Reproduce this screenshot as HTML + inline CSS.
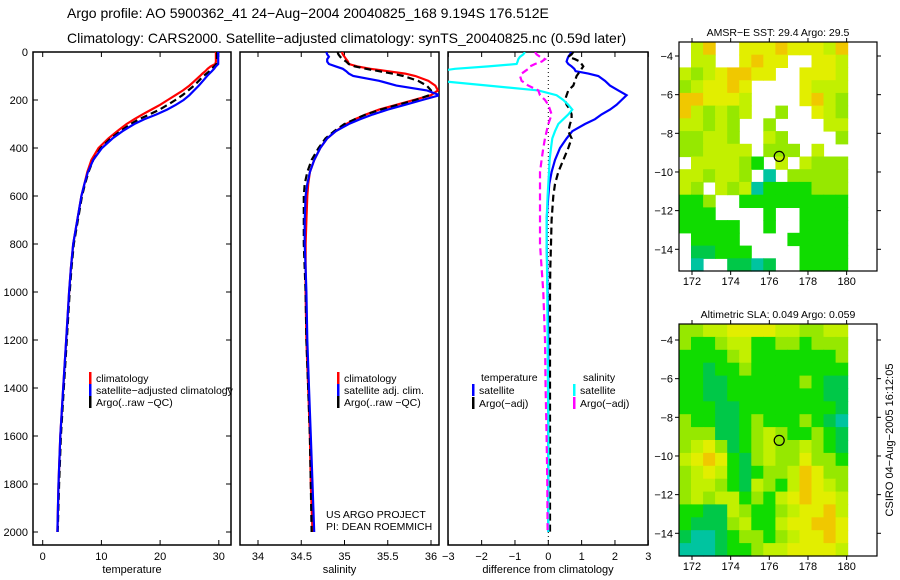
<!DOCTYPE html>
<html><head><meta charset="utf-8">
<style>
body{margin:0;background:#fff;}
svg{display:block;font-family:"Liberation Sans",sans-serif;}
</style></head>
<body>
<svg id="chart" width="900" height="580" viewBox="0 0 900 580" xmlns="http://www.w3.org/2000/svg">
<rect x="0" y="0" width="900" height="580" fill="#fff"/>
<text x="67" y="18" font-size="14">Argo profile: AO 5900362_41 24−Aug−2004 20040825_168 9.194S 176.512E</text>
<text x="67" y="43" font-size="14">Climatology: CARS2000. Satellite−adjusted climatology: synTS_20040825.nc (0.59d later)</text>
<g id="g"></g>
</svg>
<script>
const depths=[0,10,20,30,40,50,60,70,80,90,100,120,140,160,180,200,220,240,260,280,300,330,360,400,450,500,550,600,700,800,900,1000,1200,1400,1600,1800,2000];
const tempClim=[29.5,29.5,29.5,29.5,29.5,29.4,28.6,28.1,27.7,27.2,26.8,25.9,25.0,23.9,22.6,21.3,20.0,18.5,17.0,15.6,14.3,12.7,11.2,9.5,8.3,7.6,7.1,6.6,5.9,5.2,4.8,4.5,4.0,3.5,3.0,2.7,2.5];
const tempSat=[29.9,29.9,29.9,29.9,29.9,29.9,29.5,29.2,28.8,28.4,28.0,27.3,26.6,25.8,25.0,24.0,22.7,21.2,19.4,17.3,15.6,13.6,11.9,10.1,8.6,7.7,7.1,6.6,5.9,5.2,4.8,4.5,4.0,3.5,3.0,2.7,2.5];
const tempArgo=[29.7,29.7,29.7,29.7,29.7,29.6,29.2,28.8,28.4,27.9,27.4,26.6,25.8,24.8,23.8,22.6,21.3,19.9,18.2,16.4,15.0,13.2,11.6,9.9,8.6,7.8,7.2,6.7,6.0,5.3,4.9,4.6,4.1,3.6,3.1,2.8,2.55];
const salClim=[34.97,34.98,35.0,35.02,35.04,35.05,35.15,35.3,35.5,35.7,35.82,35.97,36.05,36.08,36.0,35.8,35.6,35.4,35.25,35.12,35.02,34.9,34.8,34.72,34.65,34.6,34.58,34.57,34.56,34.55,34.55,34.55,34.56,34.58,34.6,34.61,34.63];
const salSat=[34.79,34.8,34.82,34.8,34.8,34.82,34.9,34.98,35.02,35.05,35.1,35.4,35.6,35.95,36.1,35.9,35.7,35.5,35.33,35.18,35.05,34.9,34.8,34.72,34.65,34.6,34.57,34.55,34.54,34.54,34.55,34.56,34.57,34.59,34.61,34.63,34.65];
const salArgo=[34.92,34.93,34.95,34.98,35.02,35.05,35.12,35.25,35.4,35.55,35.68,35.85,35.95,36.0,35.98,35.82,35.62,35.42,35.25,35.12,35.0,34.88,34.78,34.7,34.62,34.57,34.54,34.53,34.53,34.53,34.54,34.55,34.56,34.58,34.6,34.61,34.62];
const dTempSat=[0.7,0.65,0.6,0.57,0.55,0.6,0.7,0.78,0.82,1.2,1.5,1.7,1.85,2.1,2.35,2.2,2.05,1.85,1.6,1.4,1.1,0.72,0.55,0.35,0.2,0.1,0.03,0,-0.05,-0.05,-0.03,-0.02,0,0,0,0,0];
const dTempArgo=[0.75,0.7,0.6,0.8,0.95,1.0,1.05,1.0,0.95,0.9,0.85,0.8,0.75,0.6,0.55,0.5,0.55,0.65,0.7,0.7,0.65,0.6,0.7,0.6,0.45,0.3,0.2,0.15,0.1,0.08,0.06,0.05,0.05,0.05,0.05,0.05,0.05];
const dSalSat=[-0.7,-0.75,-0.85,-0.9,-0.92,-0.95,-1.8,-2.8,-3.3,-3.3,-3.3,-3.3,-1.8,-0.3,0.25,0.45,0.6,0.72,0.6,0.45,0.3,0.2,0.12,0.08,0.04,0.02,0,-0.02,-0.05,-0.05,-0.04,-0.03,-0.02,-0.01,0,0,0];
const dSalArgo=[-0.4,-0.35,-0.25,-0.1,-0.2,-0.4,-0.55,-0.6,-0.7,-0.8,-0.85,-0.8,-0.6,-0.3,-0.25,-0.1,0,0.05,0.1,0.05,0,-0.05,-0.1,-0.15,-0.2,-0.25,-0.25,-0.25,-0.25,-0.25,-0.2,-0.15,-0.1,-0.08,-0.05,-0.03,-0.02];
const depthTicks=[0,200,400,600,800,1000,1200,1400,1600,1800,2000];
const tempTicks=[0,10,20,30];
const salTicks=[34,34.5,35,35.5,36];
const diffTicks=[-3,-2,-1,0,1,2,3];
const lonTicks=[172,174,176,178,180];
const latTicks=[-4,-6,-8,-10,-12,-14];
const sstGrid=[
".lo..yyyoyyylo",
".ll..yoyy..yyl",
"lglyooyy..yyyl",
"glyyoy....ylll",
"ooyyyl....yolg",
"olglgl..g..ylg",
"llglg..g....ll",
"ggllg..lg....g",
"ggllll.ggg.l..",
".llllgG.l.lggg",
"llgllg.t.ggggg",
"lg.lgltGGGGggg",
"GGg..GGGGGGGGG",
"GGG....G..GGGG",
"GGGGG..G..GGGG",
".GGGG....GGGGG",
".ddGGG....GGGG",
".t..ddtd..GGGG"];
const slaGrid=[
"ggllyyyyllggll",
"gGGgllGGggGggg",
"GGGGglGGGGGGGg",
"GGdGGgGGGGGGGG",
"GGddGGGGGGgGdd",
"GGddGGGGGGGGdd",
"GGGddGGGGGGGGd",
"gGGddGgGGGgGdt",
"gggddGglgGGgGd",
"glygdGglgglgGd",
"lyoyGdglggyggG",
"glylGdGggloygg",
"gllgGdlgGloylg",
"glgllGgGlyoyyl",
"GGddlgGGglyyol",
"GdddglGGlyyooy",
"dttdGggGglyyoy",
"tttdGGgllyyyyl"];
const sstTitle="AMSR−E SST: 29.4 Argo: 29.5";
const slaTitle="Altimetric SLA: 0.049 Argo: 0.059";
const floatLon=176.512, floatLat=-9.194;

const NS="http://www.w3.org/2000/svg";
const G=document.getElementById('g');
function mk(tag,attrs,parent){const e=document.createElementNS(NS,tag);for(const k in attrs)e.setAttribute(k,attrs[k]);(parent||G).appendChild(e);return e;}
const Y=d=>52+0.24*d;
const TOP=52,BOT=545;
const panels=[
 {l:33,r:231,x:v=>42.7+5.87*v,ticks:tempTicks,title:'temperature',name:'temperature'},
 {l:240,r:439,x:v=>258+86.5*(v-34),ticks:salTicks,title:'salinity',name:'salinity'},
 {l:448,r:648,x:v=>548.3+33.33*v,ticks:diffTicks,title:'difference from climatology',name:'difference'}];
const defs=mk('defs',{});
panels.forEach((p,i)=>{
  const cp=mk('clipPath',{id:'cp'+i},defs);
  mk('rect',{x:p.l,y:TOP,width:p.r-p.l,height:BOT-TOP},cp);
  const f=mk('rect',{x:p.l,y:TOP,width:p.r-p.l,height:BOT-TOP,fill:'none',stroke:'#000','stroke-width':1.5});
  
  
  p.ticks.forEach(t=>{
    const x=p.x(t);
    mk('line',{x1:x,x2:x,y1:BOT,y2:BOT-5,stroke:'#000'});
    mk('line',{x1:x,x2:x,y1:TOP,y2:TOP+5,stroke:'#000'});
    const tx=mk('text',{x:x,y:560,'font-size':11,'text-anchor':'middle'});
    tx.textContent=String(t).replace('-','−');
    
    
  });
  const at=mk('text',{x:(p.l+p.r)/2,y:573,'font-size':11,'text-anchor':'middle'});
  at.textContent=p.title;
  
  
  if(i===0){depthTicks.forEach(d=>{
    mk('line',{x1:p.l,x2:p.l+5,y1:Y(d),y2:Y(d),stroke:'#000'});
    mk('line',{x1:p.r,x2:p.r-5,y1:Y(d),y2:Y(d),stroke:'#000'});
    const tx=mk('text',{x:28,y:Y(d)+4,'font-size':11,'text-anchor':'end'});
    tx.textContent=d;
    
    
  });}
});
const zl=mk('line',{x1:panels[2].x(0),x2:panels[2].x(0),y1:TOP,y2:BOT,stroke:'#000','stroke-dasharray':'1,3'});


function series(pi,vals,color,dash,name){
  const p=panels[pi];
  const pts=vals.map((v,k)=>p.x(v).toFixed(1)+','+Y(depths[k]).toFixed(1)).join(' ');
  const a={points:pts,fill:'none',stroke:color,'stroke-width':2.2,'clip-path':'url(#cp'+pi+')'};
  if(dash)a['stroke-dasharray']='7,4';
  const e=mk('polyline',a);
  
  
}
series(0,tempClim,'#f00',0,'temp-climatology-line');
series(0,tempArgo,'#000',1,'temp-argo-line');
series(0,tempSat,'#00f',0,'temp-satellite-line');
series(1,salClim,'#f00',0,'sal-climatology-line');
series(1,salArgo,'#000',1,'sal-argo-line');
series(1,salSat,'#00f',0,'sal-satellite-line');
series(2,dTempSat,'#00f',0,'dtemp-satellite-line');
series(2,dTempArgo,'#000',1,'dtemp-argo-line');
series(2,dSalSat,'#0ff',0,'dsal-satellite-line');
series(2,dSalArgo,'#f0f',1,'dsal-argo-line');
function legend(x,y,color,label,name){
  const m=mk('rect',{x:x-1,y:y-9,width:2.5,height:12,fill:color});
  
  
  if(label){const t=mk('text',{x:x+6,y:y+1,'font-size':10.5});t.textContent=label;
  
  }
}
legend(90,381,'#f00','climatology','legend-climatology');
legend(90,393,'#00f','satellite−adjusted climatology','legend-satellite-adjusted');
legend(90,405,'#000','Argo(..raw −QC)','legend-argo');
legend(338,381,'#f00','climatology','legend-sal-climatology');
legend(338,393,'#00f','satellite adj. clim.','legend-sal-satellite');
legend(338,405,'#000','Argo(..raw −QC)','legend-sal-argo');
let t=mk('text',{x:481,y:381,'font-size':10.5});t.textContent='temperature';


t=mk('text',{x:583,y:381,'font-size':10.5});t.textContent='salinity';


legend(473,393,'#00f','satellite','legend-dtemp-satellite');
legend(473,406,'#000','Argo(−adj)','legend-dtemp-argo');
legend(574,393,'#0ff','satellite','legend-dsal-satellite');
legend(574,406,'#f0f','Argo(−adj)','legend-dsal-argo');
t=mk('text',{x:326,y:518,'font-size':10.5});t.textContent='US ARGO PROJECT';


t=mk('text',{x:326,y:530,'font-size':10.5});t.textContent='PI: DEAN ROEMMICH';



const COL={o:'#f0c800',y:'#e2ee00',l:'#c2f000',g:'#96e800',G:'#10dc00',d:'#00c848',t:'#00c4a0'};
function map(top,bot,lat4,grid,title,name){
  const L=679,R=877,lonX=v=>692+(v-172)*19.33,latY=v=>lat4+(-4-v)*19.33;
  const dataR=lonX(180)+1;
  const rows=grid.length,cols=grid[0].length,cw=(dataR-L)/cols,ch=(bot-top)/rows;
  for(let r=0;r<rows;r++)for(let c=0;c<cols;c++){
    const k=grid[r][c];if(k==='.')continue;
    const e=mk('rect',{x:(L+c*cw).toFixed(1),y:(top+r*ch).toFixed(1),width:(cw+0.6).toFixed(1),height:(ch+0.6).toFixed(1),fill:COL[k]});
    
    
  }
  const f=mk('rect',{x:L,y:top,width:R-L,height:bot-top,fill:'none',stroke:'#000','stroke-width':1.2});
  
  
  lonTicks.forEach(v=>{const x=lonX(v);
    mk('line',{x1:x,x2:x,y1:bot,y2:bot+4,stroke:'#000'});
    mk('line',{x1:x,x2:x,y1:top,y2:top-4,stroke:'#000'});
    const tx=mk('text',{x:x,y:bot+14,'font-size':11,'text-anchor':'middle'});tx.textContent=v;
    
    });
  latTicks.forEach(v=>{const y=latY(v);
    mk('line',{x1:L,x2:L-4,y1:y,y2:y,stroke:'#000'});
    mk('line',{x1:R,x2:R+4,y1:y,y2:y,stroke:'#000'});
    const tx=mk('text',{x:L-6,y:y+4,'font-size':11,'text-anchor':'end'});tx.textContent='−'+(-v);
    
    });
  const tt=mk('text',{x:(L+R)/2,y:top-6,'font-size':10.5,'text-anchor':'middle'});tt.textContent=title;
  
  
  const c=mk('circle',{cx:lonX(floatLon),cy:latY(floatLat),r:5,fill:'none',stroke:'#000','stroke-width':1.2});
  
  
}
map(42,271,56,sstGrid,sstTitle,'sst-map');
map(324,556,340,slaGrid,slaTitle,'sla-map');
t=mk('text',{x:0,y:0,'font-size':11,'text-anchor':'middle',transform:'translate(893,440) rotate(-90)'});
t.textContent='CSIRO 04−Aug−2005 16:12:05';


</script>
</body></html>
